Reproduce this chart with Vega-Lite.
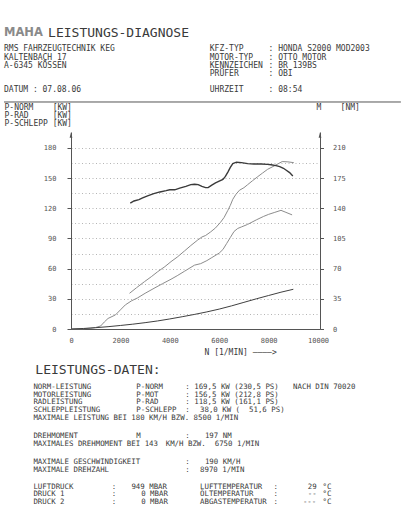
{
  "$schema": "https://vega.github.io/schema/vega-lite/v6.json",
  "padding": {"left": 3, "top": 0, "right": 0, "bottom": 0},
  "spacing": 0,
  "background": "white",
  "config": {
    "view": {"stroke": null},
    "font": "DejaVu Sans Mono",
    "concat": {"spacing": 0},
    "axis": {"labelFont": "DejaVu Sans Mono", "titleFont": "DejaVu Sans Mono", "labelColor": "#555", "titleColor": "#3a3a3a", "domainColor": "#555", "tickColor": "#555", "titleFontWeight": "normal"}
  },
  "datasets": {
    "header": [
      {"role": "logo", "col": 0, "line": 0, "text": "MAHA"},
      {"role": "title", "col": 9, "line": 0, "text": "LEISTUNGS-DIAGNOSE"},
      {"role": "body", "col": 0, "line": 2, "text": "RMS FAHRZEUGTECHNIK KEG"},
      {"role": "body", "col": 0, "line": 3, "text": "KALTENBACH 17"},
      {"role": "body", "col": 0, "line": 4, "text": "A-6345 KÖSSEN"},
      {"role": "body", "col": 42, "line": 2, "text": "KFZ-TYP"},
      {"role": "body", "col": 54, "line": 2, "text": ": HONDA S2000 MOD2003"},
      {"role": "body", "col": 42, "line": 3, "text": "MOTOR-TYP"},
      {"role": "body", "col": 54, "line": 3, "text": ": OTTO MOTOR"},
      {"role": "body", "col": 42, "line": 4, "text": "KENNZEICHEN"},
      {"role": "body", "col": 54, "line": 4, "text": ": BR 139BS"},
      {"role": "body", "col": 42, "line": 5, "text": "PRÜFER"},
      {"role": "body", "col": 54, "line": 5, "text": ": OBI"},
      {"role": "body", "col": 0, "line": 7, "text": "DATUM : 07.08.06"},
      {"role": "body", "col": 42, "line": 7, "text": "UHRZEIT"},
      {"role": "body", "col": 54, "line": 7, "text": ": 08:54"}
    ],
    "footer": [
      {"role": "title", "col": 6.4, "line": -2.2, "text": "LEISTUNGS-DATEN:"},
      {"role": "body", "col": 6, "line": 0, "text": "NORM-LEISTUNG"},
      {"role": "body", "col": 27, "line": 0, "text": "P-NORM"},
      {"role": "body", "col": 37, "line": 0, "text": ": 169,5 KW (230,5 PS)"},
      {"role": "body", "col": 59, "line": 0, "text": "NACH DIN 70020"},
      {"role": "body", "col": 6, "line": 1, "text": "MOTORLEISTUNG"},
      {"role": "body", "col": 27, "line": 1, "text": "P-MOT"},
      {"role": "body", "col": 37, "line": 1, "text": ": 156,5 KW (212,8 PS)"},
      {"role": "body", "col": 6, "line": 2, "text": "RADLEISTUNG"},
      {"role": "body", "col": 27, "line": 2, "text": "P-RAD"},
      {"role": "body", "col": 37, "line": 2, "text": ": 118,5 KW (161,1 PS)"},
      {"role": "body", "col": 6, "line": 3, "text": "SCHLEPPLEISTUNG"},
      {"role": "body", "col": 27, "line": 3, "text": "P-SCHLEPP"},
      {"role": "body", "col": 37, "line": 3, "text": ":"},
      {"role": "body", "col": 40, "line": 3, "text": "38,0 KW ("},
      {"role": "body", "col": 50, "line": 3, "text": "51,6 PS)"},
      {"role": "body", "col": 6, "line": 4, "text": "MAXIMALE LEISTUNG BEI 180 KM/H BZW. 8500 1/MIN"},
      {"role": "body", "col": 6, "line": 6.4, "text": "DREHMOMENT"},
      {"role": "body", "col": 27, "line": 6.4, "text": "M"},
      {"role": "body", "col": 37, "line": 6.4, "text": ":"},
      {"role": "body", "col": 41, "line": 6.4, "text": "197 NM"},
      {"role": "body", "col": 6, "line": 7.5, "text": "MAXIMALES DREHMOMENT BEI 143"},
      {"role": "body", "col": 33, "line": 7.5, "text": "KM/H BZW."},
      {"role": "body", "col": 43, "line": 7.5, "text": "6750 1/MIN"},
      {"role": "body", "col": 6, "line": 9.9, "text": "MAXIMALE GESCHWINDIGKEIT"},
      {"role": "body", "col": 37, "line": 9.9, "text": ":"},
      {"role": "body", "col": 41, "line": 9.9, "text": "190 KM/H"},
      {"role": "body", "col": 6, "line": 10.9, "text": "MAXIMALE DREHZAHL"},
      {"role": "body", "col": 37, "line": 10.9, "text": ":"},
      {"role": "body", "col": 40, "line": 10.9, "text": "8970 1/MIN"},
      {"role": "body", "col": 6, "line": 13.1, "text": "LUFTDRUCK"},
      {"role": "body", "col": 22, "line": 13.1, "text": ":"},
      {"role": "body", "col": 26, "line": 13.1, "text": "949 MBAR"},
      {"role": "body", "col": 40, "line": 13.1, "text": "LUFTTEMPERATUR"},
      {"role": "body", "col": 55, "line": 13.1, "text": ":"},
      {"role": "body", "col": 62, "line": 13.1, "text": "29"},
      {"role": "body", "col": 65, "line": 13.1, "text": "°C"},
      {"role": "body", "col": 6, "line": 14.1, "text": "DRUCK 1"},
      {"role": "body", "col": 22, "line": 14.1, "text": ":"},
      {"role": "body", "col": 28, "line": 14.1, "text": "0 MBAR"},
      {"role": "body", "col": 40, "line": 14.1, "text": "ÖLTEMPERATUR"},
      {"role": "body", "col": 55, "line": 14.1, "text": ":"},
      {"role": "body", "col": 62, "line": 14.1, "text": "--"},
      {"role": "body", "col": 65, "line": 14.1, "text": "°C"},
      {"role": "body", "col": 6, "line": 15.1, "text": "DRUCK 2"},
      {"role": "body", "col": 22, "line": 15.1, "text": ":"},
      {"role": "body", "col": 28, "line": 15.1, "text": "0 MBAR"},
      {"role": "body", "col": 40, "line": 15.1, "text": "ABGASTEMPERATUR"},
      {"role": "body", "col": 55, "line": 15.1, "text": ":"},
      {"role": "body", "col": 61, "line": 15.1, "text": "---"},
      {"role": "body", "col": 65, "line": 15.1, "text": "°C"}
    ],
    "power": [
      {"curve": "P-RAD", "rpm": 0, "kw": 0}, {"curve": "P-RAD", "rpm": 500, "kw": 0.3}, {"curve": "P-RAD", "rpm": 800, "kw": 0.8}, {"curve": "P-RAD", "rpm": 1000, "kw": 1.5}, {"curve": "P-RAD", "rpm": 1200, "kw": 3}, {"curve": "P-RAD", "rpm": 1350, "kw": 7}, {"curve": "P-RAD", "rpm": 1500, "kw": 10.5}, {"curve": "P-RAD", "rpm": 1800, "kw": 14}, {"curve": "P-RAD", "rpm": 2000, "kw": 19}, {"curve": "P-RAD", "rpm": 2200, "kw": 24}, {"curve": "P-RAD", "rpm": 2450, "kw": 28}, {"curve": "P-RAD", "rpm": 2700, "kw": 31}, {"curve": "P-RAD", "rpm": 3000, "kw": 35.5}, {"curve": "P-RAD", "rpm": 3400, "kw": 41}, {"curve": "P-RAD", "rpm": 3700, "kw": 45}, {"curve": "P-RAD", "rpm": 4050, "kw": 49.5}, {"curve": "P-RAD", "rpm": 4300, "kw": 53}, {"curve": "P-RAD", "rpm": 4600, "kw": 57.5}, {"curve": "P-RAD", "rpm": 5000, "kw": 63.5}, {"curve": "P-RAD", "rpm": 5250, "kw": 65}, {"curve": "P-RAD", "rpm": 5500, "kw": 68}, {"curve": "P-RAD", "rpm": 5700, "kw": 71}, {"curve": "P-RAD", "rpm": 6000, "kw": 75.5}, {"curve": "P-RAD", "rpm": 6150, "kw": 79}, {"curve": "P-RAD", "rpm": 6300, "kw": 85}, {"curve": "P-RAD", "rpm": 6450, "kw": 91}, {"curve": "P-RAD", "rpm": 6600, "kw": 97}, {"curve": "P-RAD", "rpm": 6750, "kw": 100}, {"curve": "P-RAD", "rpm": 6900, "kw": 101.5}, {"curve": "P-RAD", "rpm": 7150, "kw": 104}, {"curve": "P-RAD", "rpm": 7500, "kw": 108.5}, {"curve": "P-RAD", "rpm": 7800, "kw": 112}, {"curve": "P-RAD", "rpm": 8000, "kw": 114}, {"curve": "P-RAD", "rpm": 8250, "kw": 116}, {"curve": "P-RAD", "rpm": 8500, "kw": 118}, {"curve": "P-RAD", "rpm": 8700, "kw": 116}, {"curve": "P-RAD", "rpm": 8950, "kw": 113.5},
      {"curve": "P-NORM", "rpm": 2370, "kw": 35.5}, {"curve": "P-NORM", "rpm": 2650, "kw": 41}, {"curve": "P-NORM", "rpm": 2970, "kw": 47}, {"curve": "P-NORM", "rpm": 3250, "kw": 52}, {"curve": "P-NORM", "rpm": 3510, "kw": 57}, {"curve": "P-NORM", "rpm": 3800, "kw": 62}, {"curve": "P-NORM", "rpm": 4050, "kw": 67}, {"curve": "P-NORM", "rpm": 4300, "kw": 71.5}, {"curve": "P-NORM", "rpm": 4590, "kw": 77.5}, {"curve": "P-NORM", "rpm": 4850, "kw": 83}, {"curve": "P-NORM", "rpm": 5130, "kw": 88.5}, {"curve": "P-NORM", "rpm": 5300, "kw": 91.5}, {"curve": "P-NORM", "rpm": 5450, "kw": 93}, {"curve": "P-NORM", "rpm": 5650, "kw": 96.5}, {"curve": "P-NORM", "rpm": 5850, "kw": 100.5}, {"curve": "P-NORM", "rpm": 6050, "kw": 106}, {"curve": "P-NORM", "rpm": 6200, "kw": 111}, {"curve": "P-NORM", "rpm": 6350, "kw": 118}, {"curve": "P-NORM", "rpm": 6450, "kw": 123}, {"curve": "P-NORM", "rpm": 6550, "kw": 129}, {"curve": "P-NORM", "rpm": 6680, "kw": 134}, {"curve": "P-NORM", "rpm": 6820, "kw": 138}, {"curve": "P-NORM", "rpm": 7000, "kw": 140.5}, {"curve": "P-NORM", "rpm": 7150, "kw": 143.5}, {"curve": "P-NORM", "rpm": 7350, "kw": 147.5}, {"curve": "P-NORM", "rpm": 7560, "kw": 151.5}, {"curve": "P-NORM", "rpm": 7750, "kw": 155}, {"curve": "P-NORM", "rpm": 7960, "kw": 158.8}, {"curve": "P-NORM", "rpm": 8230, "kw": 162.2}, {"curve": "P-NORM", "rpm": 8400, "kw": 164.5}, {"curve": "P-NORM", "rpm": 8550, "kw": 166.5}, {"curve": "P-NORM", "rpm": 8780, "kw": 166.2}, {"curve": "P-NORM", "rpm": 9020, "kw": 165.4},
      {"curve": "P-SCHLEPP", "rpm": 0, "kw": 0}, {"curve": "P-SCHLEPP", "rpm": 500, "kw": 0.5}, {"curve": "P-SCHLEPP", "rpm": 1000, "kw": 1.3}, {"curve": "P-SCHLEPP", "rpm": 1500, "kw": 2.3}, {"curve": "P-SCHLEPP", "rpm": 2000, "kw": 3.5}, {"curve": "P-SCHLEPP", "rpm": 2500, "kw": 4.8}, {"curve": "P-SCHLEPP", "rpm": 3000, "kw": 6.3}, {"curve": "P-SCHLEPP", "rpm": 3500, "kw": 8}, {"curve": "P-SCHLEPP", "rpm": 4000, "kw": 10}, {"curve": "P-SCHLEPP", "rpm": 4500, "kw": 12.2}, {"curve": "P-SCHLEPP", "rpm": 5000, "kw": 14.5}, {"curve": "P-SCHLEPP", "rpm": 5500, "kw": 17}, {"curve": "P-SCHLEPP", "rpm": 6000, "kw": 19.8}, {"curve": "P-SCHLEPP", "rpm": 6500, "kw": 23}, {"curve": "P-SCHLEPP", "rpm": 7000, "kw": 26.5}, {"curve": "P-SCHLEPP", "rpm": 7500, "kw": 30}, {"curve": "P-SCHLEPP", "rpm": 8000, "kw": 33.3}, {"curve": "P-SCHLEPP", "rpm": 8500, "kw": 36.6}, {"curve": "P-SCHLEPP", "rpm": 9000, "kw": 39.5}
    ],
    "torque": [
      {"rpm": 2400, "nm": 146}, {"rpm": 2550, "nm": 148.5}, {"rpm": 2750, "nm": 150}, {"rpm": 2900, "nm": 152}, {"rpm": 3100, "nm": 154.5}, {"rpm": 3350, "nm": 157}, {"rpm": 3600, "nm": 159}, {"rpm": 3850, "nm": 160.5}, {"rpm": 4000, "nm": 161.5}, {"rpm": 4200, "nm": 161.5}, {"rpm": 4400, "nm": 163.5}, {"rpm": 4650, "nm": 165.5}, {"rpm": 4850, "nm": 167.5}, {"rpm": 5000, "nm": 168}, {"rpm": 5150, "nm": 167.5}, {"rpm": 5300, "nm": 165.5}, {"rpm": 5450, "nm": 164}, {"rpm": 5550, "nm": 164}, {"rpm": 5700, "nm": 167}, {"rpm": 5850, "nm": 169.5}, {"rpm": 6000, "nm": 171.5}, {"rpm": 6150, "nm": 173.5}, {"rpm": 6250, "nm": 177}, {"rpm": 6350, "nm": 182}, {"rpm": 6450, "nm": 187.5}, {"rpm": 6550, "nm": 192}, {"rpm": 6700, "nm": 193.5}, {"rpm": 6900, "nm": 193}, {"rpm": 7150, "nm": 191.8}, {"rpm": 7400, "nm": 191.5}, {"rpm": 7700, "nm": 191.5}, {"rpm": 7950, "nm": 191}, {"rpm": 8100, "nm": 190.5}, {"rpm": 8300, "nm": 189.5}, {"rpm": 8450, "nm": 188.3}, {"rpm": 8600, "nm": 186.5}, {"rpm": 8700, "nm": 184.5}, {"rpm": 8850, "nm": 181.5}, {"rpm": 8980, "nm": 177.5}
    ]
  },
  "vconcat": [
    {
      "width": 249,
      "height": 103,
      "data": {"name": "header"},
      "encoding": {
        "x": {"field": "col", "type": "quantitative", "scale": {"domain": [13.673, 64.49], "nice": false, "zero": false}, "axis": null},
        "y": {"field": "line", "type": "quantitative", "scale": {"domain": [-4.024, 8.537], "nice": false, "zero": false, "reverse": true}, "axis": null}
      },
      "layer": [
        {"transform": [{"filter": "datum.role === 'body'"}], "mark": {"type": "text", "align": "left", "baseline": "middle", "fontSize": 8, "font": "DejaVu Sans Mono", "color": "#3a3a3a"}, "encoding": {"text": {"field": "text"}}},
        {"transform": [{"filter": "datum.role === 'title'"}], "mark": {"type": "text", "align": "left", "baseline": "middle", "fontSize": 13, "font": "DejaVu Sans Mono", "color": "#3a3a3a"}, "encoding": {"text": {"field": "text"}}},
        {"transform": [{"filter": "datum.role === 'logo'"}], "mark": {"type": "text", "align": "left", "baseline": "middle", "fontSize": 11.5, "font": "DejaVu Sans", "fontWeight": "bold", "color": "#8a8a8a"}, "encoding": {"text": {"field": "text"}}},
        {"data": {"values": [{"from": 0, "to": 81, "at": 8.415}]}, "mark": {"type": "rule", "color": "#555", "strokeWidth": 1}, "encoding": {"x": {"field": "from", "type": "quantitative"}, "x2": {"field": "to"}, "y": {"field": "at", "type": "quantitative"}}}
      ]
    },
    {
      "width": 249,
      "height": 197,
      "layer": [
        {
          "layer": [
            {
              "data": {"name": "power"},
              "mark": {"type": "line", "interpolate": "linear"},
              "encoding": {
                "x": {"field": "rpm", "type": "quantitative", "scale": {"domain": [0, 10080], "nice": false, "zero": false},
                  "axis": {"values": [0, 2000, 4000, 6000, 8000, 10000], "format": "d", "tickCount": 20, "grid": false, "ticks": false, "tickSize": 0, "labelPadding": 7, "labelFontSize": 7, "labelFlush": false, "labelOverlap": false, "title": "N [1/MIN] ————>", "titleFontSize": 8, "titleX": 133, "titleY": 23, "titleAlign": "left", "titleBaseline": "middle", "titleAnchor": "start"}},
                "y": {"field": "kw", "type": "quantitative", "scale": {"domain": [0, 195.9], "nice": false, "zero": true},
                  "axis": {"orient": "left", "values": [0, 15, 30, 45, 60, 75, 90, 105, 120, 135, 150, 165, 180], "tickCount": 40, "format": "d", "labelOverlap": false, "labelExpr": "datum.value % 30 === 0 ? datum.label : ''", "tickOpacity": {"condition": {"test": "datum.value % 30 !== 0", "value": 0}, "value": 1}, "tickSize": 4, "labelPadding": 11, "labelFontSize": 7, "grid": true, "gridDash": [1, 2.5], "gridColor": "#b5b5b5", "gridWidth": 1,
                    "title": ["P-NORM\u00a0\u00a0\u00a0\u00a0[KW]", "P-RAD\u00a0\u00a0\u00a0\u00a0\u00a0[KW]", "P-SCHLEPP\u00a0[KW]"], "titleAngle": 0, "titleAlign": "left", "titleBaseline": "top", "titleX": -67, "titleY": -28.5, "titleFontSize": 8, "titleLineHeight": 8, "titleAnchor": "start"}},
                "detail": {"field": "curve"},
                "color": {"field": "curve", "type": "nominal", "scale": {"domain": ["P-NORM", "P-RAD", "P-SCHLEPP"], "range": ["#8c8c8c", "#8c8c8c", "#404040"]}, "legend": null},
                "strokeWidth": {"field": "curve", "type": "nominal", "scale": {"domain": ["P-NORM", "P-RAD", "P-SCHLEPP"], "range": [1, 1, 1.4]}, "legend": null}
              }
            },
            {
              "data": {"values": [{"rpm": 0, "kw": 193}]},
              "mark": {"type": "point", "filled": true, "shape": "M0,-1L0.5,1L-0.5,1Z", "size": 30, "color": "#555", "opacity": 1},
              "encoding": {"x": {"field": "rpm", "type": "quantitative"}, "y": {"field": "kw", "type": "quantitative"}}
            }
          ]
        },
        {
          "layer": [
            {
              "data": {"name": "torque"},
              "mark": {"type": "line", "color": "#3a3a3a", "strokeWidth": 1.4},
              "encoding": {
                "x": {"field": "rpm", "type": "quantitative"},
                "y": {"field": "nm", "type": "quantitative", "scale": {"domain": [0, 228.55], "nice": false, "zero": true},
                  "axis": {"orient": "right", "values": [0, 35, 70, 105, 140, 175, 210], "tickCount": 40, "format": "d", "labelOverlap": false, "tickSize": 3.5, "labelPadding": 9, "labelFontSize": 7, "grid": false,
                    "title": "M\u00a0\u00a0\u00a0\u00a0[NM]", "titleAngle": 0, "titleAlign": "left", "titleBaseline": "top", "titleX": -4, "titleY": -28.5, "titleFontSize": 8, "titleAnchor": "start"}}
              }
            },
            {
              "data": {"values": [{"rpm": 10080, "nm": 225}]},
              "mark": {"type": "point", "filled": true, "shape": "M0,-1L0.5,1L-0.5,1Z", "size": 30, "color": "#555", "opacity": 1},
              "encoding": {"x": {"field": "rpm", "type": "quantitative"}, "y": {"field": "nm", "type": "quantitative"}}
            }
          ]
        }
      ],
      "resolve": {"scale": {"y": "independent"}, "axis": {"y": "independent"}}
    },
    {
      "width": 249,
      "height": 159,
      "data": {"name": "footer"},
      "encoding": {
        "x": {"field": "col", "type": "quantitative", "scale": {"domain": [13.673, 64.49], "nice": false, "zero": false}, "axis": null},
        "y": {"field": "line", "type": "quantitative", "scale": {"domain": [-4.105, 16.816], "nice": false, "zero": false, "reverse": true}, "axis": null}
      },
      "layer": [
        {"transform": [{"filter": "datum.role === 'body'"}], "mark": {"type": "text", "align": "left", "baseline": "middle", "fontSize": 7.4, "font": "DejaVu Sans Mono", "color": "#3a3a3a"}, "encoding": {"text": {"field": "text"}}},
        {"transform": [{"filter": "datum.role === 'title'"}], "mark": {"type": "text", "align": "left", "baseline": "middle", "fontSize": 13, "font": "DejaVu Sans Mono", "color": "#3a3a3a"}, "encoding": {"text": {"field": "text"}}}
      ]
    }
  ]
}
